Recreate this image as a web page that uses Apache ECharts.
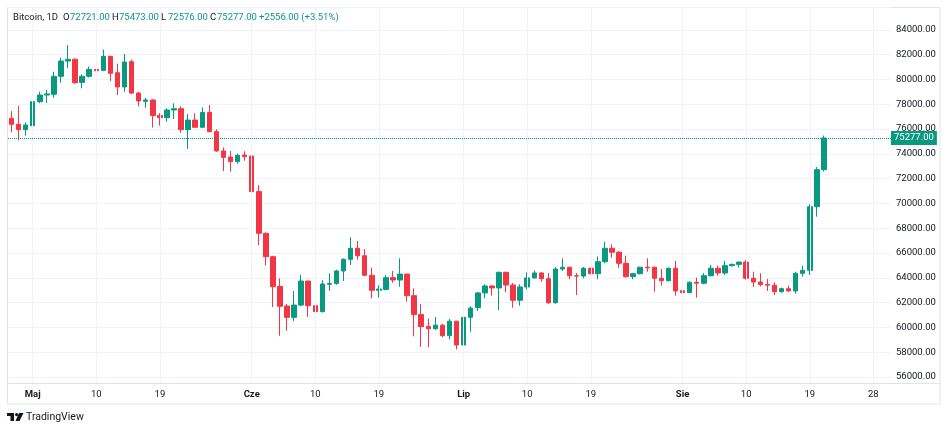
<!DOCTYPE html>
<html>
<head>
<meta charset="utf-8">
<title>Bitcoin, 1D</title>
<script src="https://cdn.jsdelivr.net/npm/echarts@6/dist/echarts.min.js"></script>
<style>
  html, body { margin: 0; padding: 0; background: #ffffff; }
  #chart { width: 948px; height: 430px; }
</style>
</head>
<body>
<div id="chart"></div>
<script>
// daily candles from 28 Apr to 21 Aug, axis runs on to 30 Aug
var firstDay = Date.UTC(2024, 3, 28);
var lastDay = Date.UTC(2024, 7, 30);

var open = [
  76860, 76380, 75950, 76270, 78200, 78740, 78800, 80250, 81480, 81620,
  79760, 80250, 80810, 80730, 81860, 80540, 79390, 81430, 78900, 78230,
  78340, 77080, 76910, 77530, 77640, 75950, 76720, 76140, 77340, 75790,
  74230, 73740, 73370, 73900, 73820, 70950, 67590, 65700, 63310, 61720,
  60810, 61800, 63740, 61750, 61270, 63480, 63540, 64550, 65490, 66380,
  65780, 64200, 62990, 63060, 64010, 63820, 64300, 62560, 61030, 60080,
  59900, 60180, 59330, 60500, 58580, 60810, 61590, 62780, 63340, 63180,
  64440, 63420, 62190, 63260, 63990, 64390, 63930, 61990, 64710, 64850,
  64170, 64140, 64770, 64330, 65300, 66380, 66060, 65170, 64090, 64330,
  64850, 64850, 63960, 63770, 64770, 62960, 62800, 63640, 63560, 64170,
  64770, 64390, 64980, 65080, 65270, 63960, 63660, 63450, 63400, 62880,
  63120, 62940, 64360, 64600, 69730, 72721
];
var high = [
  77450, 77880, 76540, 78800, 79010, 79150, 80620, 81750, 82770, 81700,
  80410, 81030, 81560, 82400, 81900, 81270, 82050, 81600, 79000, 78520,
  78400, 77270, 77670, 78070, 77830, 77210, 77270, 77750, 77930, 75980,
  74520, 74230, 74010, 74200, 73990, 71480, 67650, 65780, 63960, 61890,
  62930, 64230, 63760, 62750, 63800, 64360, 64650, 65560, 67265, 66970,
  66320, 64820, 63400, 64230, 64550, 65570, 64330, 63150, 61890, 60700,
  60840, 60300, 60680, 60520, 60900, 61700, 62850, 63480, 63400, 64500,
  64500, 63580, 63480, 64440, 64580, 64450, 64390, 64850, 65570, 64900,
  64390, 64870, 64830, 65730, 66910, 66700, 66150, 65790, 64400, 64900,
  65570, 64900, 64710, 64830, 65360, 63150, 63700, 64010, 64390, 65030,
  64980, 65360, 65150, 65300, 65440, 64490, 64360, 63900, 63640, 63200,
  63370, 64490, 64980, 69930, 72935, 75473
];
var low = [
  75730, 75090, 75460, 76150, 78080, 78100, 78520, 79730, 80900, 79650,
  79280, 80150, 80490, 80680, 79870, 78740, 79010, 78800, 77830, 77720,
  76110, 76270, 76590, 76800, 75700, 74390, 76110, 76100, 75730, 74170,
  72610, 72560, 73200, 73440, 70760, 66645, 64980, 61650, 59330, 59730,
  60510, 61700, 60860, 60950, 61200, 62940, 63450, 63740, 65030, 65460,
  64150, 62350, 62400, 62990, 63600, 63280, 62080, 59280, 58420, 58400,
  59800, 59200, 59040, 58230, 57960, 59650, 61320, 62350, 62560, 61400,
  62830, 61590, 61750, 63070, 63950, 63690, 61900, 61910, 64550, 63880,
  62610, 63960, 64280, 63880, 65170, 65620, 64770, 64010, 63880, 64280,
  64490, 62880, 63370, 63700, 62560, 62350, 62780, 62400, 63480, 64100,
  64170, 64230, 64900, 64820, 63850, 63260, 63310, 62940, 62610, 62800,
  62880, 62720, 64090, 64230, 68930, 72576
];
var close = [
  76380, 75950, 76320, 78200, 78740, 78830, 80250, 81480, 81620, 79730,
  80250, 80810, 80700, 81860, 80490, 79390, 81400, 78900, 78260, 78340,
  77080, 76910, 77530, 77640, 75950, 76720, 76140, 77340, 75790, 74230,
  73710, 73370, 73880, 73770, 70950, 67590, 65700, 63280, 61700, 60810,
  61800, 63740, 61750, 61270, 63500, 63540, 64550, 65490, 66380, 65780,
  64200, 62990, 63100, 64010, 63820, 64300, 62560, 61030, 60060, 59890,
  60180, 59330, 60500, 58580, 60810, 61560, 62780, 63340, 63180, 64440,
  63420, 62190, 63260, 63990, 64390, 63930, 61990, 64710, 64850, 64170,
  64140, 64770, 64330, 65300, 66380, 66060, 65170, 64090, 64330, 64850,
  64800, 63960, 63770, 64770, 62940, 62800, 63640, 63560, 64170, 64770,
  64390, 64980, 65080, 65270, 63960, 63660, 63450, 63400, 62880, 63120,
  62940, 64360, 64600, 69730, 72721, 75277
];

var tickDays = ['05-01', '05-10', '05-19', '06-01', '06-10', '06-19', '07-01',
                '07-10', '07-19', '08-01', '08-10', '08-19', '08-28'];
var tickNames = ['Maj', '10', '19', 'Cze', '10', '19', 'Lip', '10', '19', 'Sie', '10', '19', '28'];
var monthNames = ['Maj', 'Cze', 'Lip', 'Sie'];

var UP = '#089981';
var DOWN = '#F23645';
var TXT = '#131722';
var FONT = 'Roboto, "Noto Sans", sans-serif';
var FS = 9.5;

function pad(n) { return n < 10 ? '0' + n : '' + n; }

var days = [];
for (var t = firstDay; t <= lastDay; t += 86400000) {
  var dt = new Date(t);
  days.push(pad(dt.getUTCMonth() + 1) + '-' + pad(dt.getUTCDate()));
}

var candles = open.map(function (o, i) {
  return [o, close[i], low[i], high[i]];
});

var n = close.length - 1;
var lastPrice = close[n];
var change = close[n] - close[n - 1];
var changePct = change / close[n - 1] * 100;

var chart = echarts.init(document.getElementById('chart'), null, {renderer: 'canvas'});

chart.setOption({
  animation: false,
  backgroundColor: '#ffffff',
  textStyle: {fontFamily: FONT},
  title: {
    left: 13,
    top: 13,
    padding: 0,
    text: '{n|Bitcoin, 1D}' +
          '{l|O}{v|' + open[n].toFixed(2) + '}' +
          '{l|H}{v|' + high[n].toFixed(2) + '}' +
          '{l|L}{v|' + low[n].toFixed(2) + '}' +
          '{l|C}{v|' + close[n].toFixed(2) + '}' +
          '{c|' + (change >= 0 ? '+' : '') + change.toFixed(2) +
          ' (' + (change >= 0 ? '+' : '') + changePct.toFixed(2) + '%)}',
    textStyle: {
      fontSize: FS,
      fontFamily: FONT,
      fontWeight: 'normal',
      rich: {
        n: {width: 50, color: TXT, fontSize: FS, fontFamily: FONT},
        l: {width: 7, color: TXT, fontSize: FS, fontFamily: FONT},
        v: {width: 42, color: UP, fontSize: FS, fontFamily: FONT},
        c: {color: UP, fontSize: FS, fontFamily: FONT}
      }
    }
  },
  grid: {left: 8, right: 57, top: 7, bottom: 47},
  xAxis: {
    type: 'category',
    data: days,
    boundaryGap: true,
    axisLine: {show: true, lineStyle: {color: '#e0e3eb', width: 1}},
    axisTick: {show: false},
    splitLine: {show: false},
    axisLabel: {
      margin: 7,
      interval: function (idx, val) { return tickDays.indexOf(val) >= 0; },
      formatter: function (val) {
        var name = tickNames[tickDays.indexOf(val)];
        return monthNames.indexOf(name) >= 0 ? '{m|' + name + '}' : '{d|' + name + '}';
      },
      rich: {
        m: {fontSize: FS, fontWeight: 'bold', color: TXT, fontFamily: FONT},
        d: {fontSize: FS, color: TXT, fontFamily: FONT}
      }
    }
  },
  yAxis: {
    type: 'value',
    position: 'right',
    min: 55515,
    max: 85840,
    splitNumber: 15,
    axisLine: {show: false},
    axisTick: {show: false},
    splitLine: {show: true, lineStyle: {color: '#f0f3fa', width: 1}},
    axisLabel: {
      margin: 5,
      color: TXT,
      fontSize: FS,
      fontFamily: FONT,
      formatter: function (v) { return v % 2000 === 0 ? v.toFixed(2) : ''; }
    }
  },
  series: [
    {
      // vertical grid at the time labels, under the candles
      type: 'line',
      data: [],
      z: 1,
      silent: true,
      markLine: {
        silent: true,
        animation: false,
        symbol: ['none', 'none'],
        label: {show: false},
        lineStyle: {color: '#f0f3fa', type: 'solid', width: 1},
        data: tickDays.map(function (d) { return {xAxis: d}; })
      }
    },
    {
      type: 'candlestick',
      name: 'Bitcoin',
      data: candles,
      barWidth: 5,
      z: 2,
      itemStyle: {
        color: UP,
        color0: DOWN,
        borderColor: UP,
        borderColor0: DOWN,
        borderWidth: 1
      },
      markLine: {
        silent: true,
        animation: false,
        symbol: ['none', 'none'],
        lineStyle: {color: UP, type: 'dotted', width: 1},
        label: {
          show: true,
          position: 'end',
          distance: 0,
          formatter: function () { return lastPrice.toFixed(2); },
          color: '#ffffff',
          backgroundColor: UP,
          padding: [2, 3, 2, 3],
          fontSize: FS,
          fontFamily: FONT
        },
        data: [{yAxis: lastPrice}]
      }
    }
  ],
  graphic: [
    {
      type: 'rect', silent: true, z: 0,
      shape: {x: 7.5, y: 7.5, width: 932.5, height: 396.5},
      style: {fill: 'none', stroke: '#e0e3eb', lineWidth: 1}
    },
    {
      type: 'line', silent: true,
      shape: {x1: 891, y1: 383.5, x2: 940, y2: 383.5},
      style: {stroke: '#e0e3eb', lineWidth: 1}
    },
    {
      type: 'group', left: 7, top: 413, silent: true,
      children: [
        {type: 'polygon', shape: {points: [[0, 0], [7, 0], [7, 8], [3.5, 8], [3.5, 3], [0, 3]]}, style: {fill: TXT}},
        {type: 'circle', shape: {cx: 9.6, cy: 1.6, r: 1.6}, style: {fill: TXT}},
        {type: 'polygon', shape: {points: [[12, 0], [16.5, 0], [12.5, 8], [8.5, 8]]}, style: {fill: TXT}}
      ]
    },
    {
      type: 'text', left: 26, top: 412, silent: true,
      style: {text: 'TradingView', fill: TXT, font: '10.5px ' + FONT}
    }
  ]
});
</script>
</body>
</html>
